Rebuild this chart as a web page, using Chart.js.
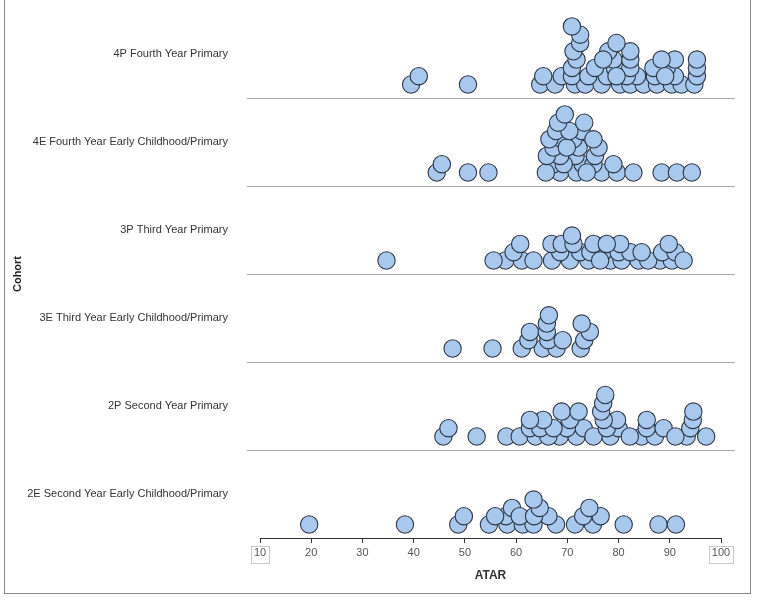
<!DOCTYPE html>
<html>
<head>
<meta charset="utf-8">
<script src="https://cdn.jsdelivr.net/npm/chart.js@4"></script>
<style>
  html, body { margin: 0; padding: 0; background: #fff; }
  #wrap { position: relative; width: 761px; height: 606px; }
  #frame { position: absolute; left: 4px; top: -1px; width: 745px; height: 593px; border: 1px solid #8c8c8c; pointer-events: none; }
</style>
</head>
<body>
<div id="wrap">
  <canvas id="dots" width="761" height="606"></canvas>
  <div id="frame"></div>
</div>
<script>
// Cohorts, top row first
const COHORTS = [
  '4P Fourth Year Primary',
  '4E Fourth Year Early Childhood/Primary',
  '3P Third Year Primary',
  '3E Third Year Early Childhood/Primary',
  '2P Second Year Primary',
  '2E Second Year Early Childhood/Primary',
];

// ATAR of each student
const ATAR_4P = [39.5, 50.6, 64.7, 67.6, 71.5, 73.5, 76.7, 80.3, 82.3, 84.9, 87.5, 90.4, 92.3, 94.8,
  41, 65.3, 68.9, 70.9, 74.1, 77.7, 79.3, 83.6, 87.1, 91.0, 95.3,
  70.9, 75.4, 79.0, 81.6, 89.4, 91.0, 95.3,
  71.8, 78.0, 82.3, 86.8, 95.3,
  71.2, 77.0, 82.3, 88.4,
  72.5, 79.6, 89.1, 72.5, 82.3, 70.9, 79.6];
const ATAR_4E = [44.5, 50.6, 54.6, 68.6, 71.8, 73.0, 76.7, 79.7, 82.9, 88.4, 91.4, 94.3,
  45.5, 67.3, 71.6, 75.1, 79.0, 65.8, 69.3, 72.2, 75.4, 68.6, 71.2, 73.8,
  66.0, 72.8, 67.3, 76.1, 68.9, 75.1, 69.9, 66.5, 67.8, 70.4, 73.3, 68.2, 69.5];
const ATAR_3P = [34.7, 57.9, 61.1, 63.4, 67.0, 70.5, 74.1, 78.4, 80.6, 83.9, 88.1, 90.4,
  55.6, 59.5, 68.6, 72.5, 77.0, 80.0, 85.8, 88.5, 91.1,
  60.8, 66.9, 74.5, 82.3, 84.5, 89.8, 92.7,
  68.9, 71.2, 76.4, 80.3, 70.9, 75.1, 77.7];
const ATAR_3E = [47.6, 55.4, 61.1, 65.2, 67.9, 72.6, 62.4, 66.3, 73.3, 62.7, 69.1, 74.4,
  66.0, 72.8, 66.0, 66.4];
const ATAR_2P = [45.8, 52.3, 58.1, 60.7, 63.8, 68.5, 71.8, 73.2, 78.4, 80.0, 84.5, 87.1, 93.3, 97.1,
  46.8, 62.7, 66.3, 69.9, 75.1, 77.7, 79.7, 85.5, 88.8, 91.1, 94.0,
  64.7, 67.3, 70.5, 77.1, 82.2, 85.5, 94.5,
  65.3, 68.9, 72.2, 76.6, 94.6, 62.7, 77.0, 77.4];
const ATAR_2E = [19.6, 38.3, 48.7, 54.7, 58.3, 61.3, 63.4, 67.8, 71.5, 75.0, 76.5, 81.0, 87.8, 91.2,
  49.8, 58.0, 59.2, 66.3, 73.1, 55.9, 60.7, 63.5, 74.3, 64.6, 63.4];

const ROWS = [ATAR_4P, ATAR_4E, ATAR_3P, ATAR_3E, ATAR_2P, ATAR_2E];
const X_TICKS = [10, 20, 30, 40, 50, 60, 70, 80, 90, 100];

const NEAR = 9.5;  // dots closer than this (px) go on separate levels
const STEP = 8.3;  // height of one stack level (px)
const LIFT = 13.5; // first level above the row line (px)

// gray row separators, a bit wider than the axis
const rowLines = {
  id: 'rowLines',
  beforeDatasetsDraw(chart) {
    const { ctx, chartArea, scales: { y } } = chart;
    ctx.save();
    ctx.strokeStyle = '#a6a6a6';
    ctx.lineWidth = 1;
    for (let i = 1; i < COHORTS.length; i++) {
      const py = Math.round(y.getPixelForValue(i)) + 0.5;
      ctx.beginPath();
      ctx.moveTo(chartArea.left - 13, py);
      ctx.lineTo(chartArea.right + 14, py);
      ctx.stroke();
    }
    ctx.restore();
  },
  afterDraw(chart) {
    // little boxes round the end labels
    const { ctx, scales: { x } } = chart;
    ctx.save();
    ctx.strokeStyle = '#c8c8c8';
    ctx.lineWidth = 1;
    ctx.font = '11px "Liberation Sans", Arial, sans-serif';
    [X_TICKS[0], X_TICKS[X_TICKS.length - 1]].forEach(v => {
      const w = ctx.measureText(String(v)).width + 6;
      const px = x.getPixelForValue(v);
      ctx.strokeRect(Math.round(px - w / 2) + 0.5, x.top + 8.5, Math.round(w), 17);
    });
    ctx.restore();
  },
};

const chart = new Chart(document.getElementById('dots'), {
  type: 'scatter',
  data: { datasets: [{
    data: [],
    pointRadius: 8.7,
    pointHoverRadius: 8.7,
    backgroundColor: '#a8c8ee',
    borderColor: '#2e3846',
    borderWidth: 1.1,
  }] },
  options: {
    responsive: false,
    animation: false,
    layout: { padding: { left: 5, right: 40, top: 10, bottom: 0 } },
    plugins: { legend: { display: false }, tooltip: { enabled: false } },
    scales: {
      x: {
        min: 10, max: 100,
        afterBuildTicks: s => { s.ticks = X_TICKS.map(v => ({ value: v })); },
        afterFit: s => { s.height = 68; },
        ticks: { color: '#555', font: { size: 11, family: '"Liberation Sans", Arial, sans-serif' }, padding: 3, maxRotation: 0 },
        grid: { display: true, drawOnChartArea: false, drawTicks: true, tickLength: 5, color: '#333' },
        border: { display: true, color: '#333', width: 1 },
        title: { display: true, text: 'ATAR', color: '#333', font: { size: 12, weight: 'bold', family: '"Liberation Sans", Arial, sans-serif' }, padding: { top: 4, bottom: 23 } },
      },
      y: {
        min: 0, max: COHORTS.length,
        afterBuildTicks: s => { s.ticks = COHORTS.map((_, i) => ({ value: i + 0.5 })); },
        afterFit: s => { s.width = 255; s.paddingTop = 0; s.paddingBottom = 0; },
        ticks: {
          color: '#333', padding: 24,
          font: { size: 11, family: '"Liberation Sans", Arial, sans-serif' },
          callback: v => COHORTS[COHORTS.length - 1 - Math.floor(v)],
        },
        grid: { display: false },
        border: { display: false },
        title: { display: true, text: 'Cohort', color: '#222', font: { size: 11, weight: 'bold', family: '"Liberation Sans", Arial, sans-serif' }, padding: { top: 6, bottom: 4 } },
      },
    },
  },
  plugins: [rowLines],
});

// stack dots on levels: each dot takes the lowest level with no close neighbour
function stack(values, base) {
  const x = chart.scales.x, y = chart.scales.y;
  const rowPx = y.getPixelForValue(0) - y.getPixelForValue(1);
  const placed = [];
  return values.map(v => {
    const px = x.getPixelForValue(v);
    let lvl = 0;
    while (placed.some(p => p.lvl === lvl && Math.abs(p.px - px) < NEAR)) lvl++;
    placed.push({ px, lvl });
    return { x: v, y: base + (LIFT + lvl * STEP) / rowPx };
  });
}

chart.data.datasets[0].data = ROWS.flatMap((vals, i) => stack(vals, ROWS.length - 1 - i));
chart.update('none');
</script>
</body>
</html>
